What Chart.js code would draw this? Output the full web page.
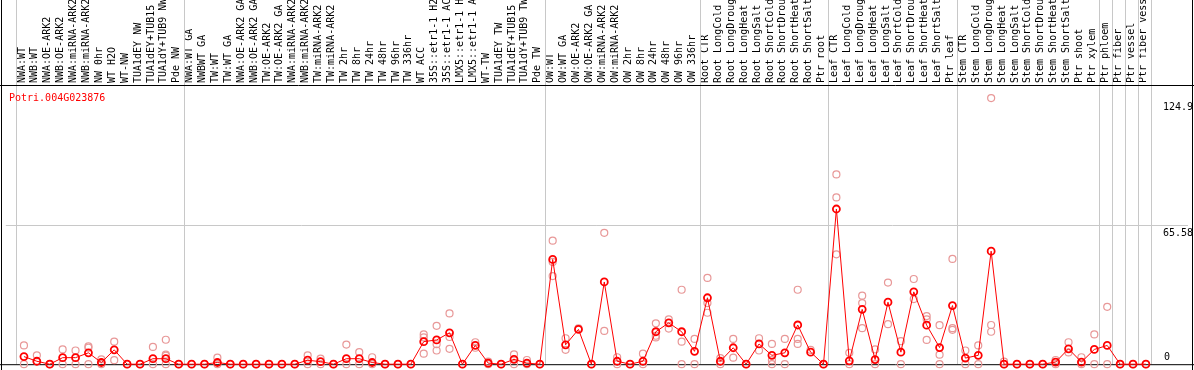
<!DOCTYPE html>
<html>
<head>
<meta charset="utf-8">
<script src="https://cdn.jsdelivr.net/npm/chart.js@4.4.1/dist/chart.umd.min.js"></script>
<style>
  html, body { margin: 0; padding: 0; background: #ffffff; }
  #wrap { width: 1194px; height: 370px; }
</style>
</head>
<body>
<div id="wrap"><canvas id="exprChart" width="1194" height="370"></canvas></div>
<script>
// ---- dados ----
const geneName = "Potri.004G023876";

const sampleLabels = [
    "NWA:WT", "NWB:WT", "NWA:OE-ARK2", "NWB:OE-ARK2", "NWA:miRNA-ARK2", "NWB:miRNA-ARK2",
    "NW 0hr", "WT H2O", "WT-NW", "TUA1dEY NW", "TUA1dEY+TUB15 NW", "TUA1dY+TUB9 NW", "Pde NW",
    "NWA:WT GA", "NWBWT GA", "TW:WT", "TW:WT GA", "NWA:OE-ARK2 GA", "NWB:OE-ARK2 GA",
    "TW:OE-ARK2", "TW:OE-ARK2 GA", "NWA:miRNA-ARK2 GA", "NWB:miRNA-ARK2 GA", "TW:miRNA-ARK2",
    "TW:miRNA-ARK2 GA", "TW 2hr", "TW 8hr", "TW 24hr", "TW 48hr", "TW 96hr", "TW 336hr", "WT ACC",
    "35S::etr1-1 H2O", "35S::etr1-1 ACC", "LMX5::etr1-1 H2O", "LMX5::etr1-1 ACC", "WT-TW",
    "TUA1dEY TW", "TUA1dEY+TUB15 TW", "TUA1dY+TUB9 TW", "Pde TW",
    "OW:WT", "OW:WT GA", "OW:OE-ARK2", "OW:OE-ARK2 GA", "OW:miRNA-ARK2", "OW:miRNA-ARK2 GA",
    "OW 2hr", "OW 8hr", "OW 24hr", "OW 48hr", "OW 96hr", "OW 336hr",
    "Root CTR", "Root LongCold", "Root LongDrought", "Root LongHeat", "Root LongSalt",
    "Root ShortCold", "Root ShortDrought", "Root ShortHeat", "Root ShortSalt", "Ptr root",
    "Leaf CTR", "Leaf LongCold", "Leaf LongDrought", "Leaf LongHeat", "Leaf LongSalt",
    "Leaf ShortCold", "Leaf ShortDrought", "Leaf ShortHeat", "Leaf ShortSalt", "Ptr leaf",
    "Stem CTR", "Stem LongCold", "Stem LongDrought", "Stem LongHeat", "Stem LongSalt",
    "Stem ShortCold", "Stem ShortDrought", "Stem ShortHeat", "Stem ShortSalt", "Ptr shoot",
    "Ptr xylem", "Ptr phloem", "Ptr fiber", "Ptr vessel", "Ptr fiber vessel"
];

const meanValues = [
    3.6, 1.4, 0, 3.1, 3.1, 5.4, 0.8, 6.8, 0, 0, 2.6, 2.6, 0,
    0, 0, 0.8, 0, 0, 0, 0, 0, 0, 1.9, 1.2, 0, 2.6, 2.6, 0.8, 0, 0, 0,
    10.7, 11.5, 14.9, 0, 8.9, 0.5, 0, 2.3, 0.5, 0,
    49.7, 9.2, 16.5, 0, 39.0, 1.4, 0, 1.4, 15.4, 19.6, 15.4, 6.1,
    31.5, 1.4, 7.8, 0, 9.6, 4.2, 5.4, 18.6, 5.7, 0,
    73.6, 1.6, 26.0, 2.2, 29.4, 5.7, 34.3, 18.5, 7.9, 27.8,
    2.9, 4.2, 53.6, 0, 0, 0, 0, 1.0, 7.3, 1.0, 7.0,
    8.9, 0, 0, 0
];

const replicateValues = [
    [8.9, 0], [4.2, 1.4], [0, 0], [7.0, 0], [6.5, 0], [8.5, 7.8, 0], [2.3, 0], [10.7, 1.9], [0], [0],
    [8.2, 0], [11.6, 4.5, 4.0, 0], [0],
    [0], [0], [3.1, 0], [0], [0], [0], [0], [0], [0], [4.2, 0], [2.6, 0], [0], [9.3, 0], [5.7, 0],
    [3.3, 0], [0], [0], [0],
    [14.1, 12.7, 5.0], [18.2, 9.5, 6.5], [24.1, 12.9, 7.3], [0], [10.4, 7.8], [1.2, 0], [0],
    [4.7, 0], [2.0, 0], [0],
    [58.6, 48.5, 41.8], [12.3, 6.8], [17.0], [0], [62.3, 15.8], [3.3, 0], [0], [5.0, 0],
    [19.4, 13.5, 12.7], [21.3, 16.9], [35.3, 10.7, 0], [12.0, 0],
    [40.9, 29.0, 24.4], [2.9, 0], [12.0, 3.1], [0], [12.3, 6.5], [9.6, 1.9, 0], [12.0, 0],
    [35.3, 12.0, 9.6], [6.8], [0],
    [90.0, 79.1, 52.1], [5.4, 0], [32.5, 29.0, 17.1], [7.0, 0], [38.7, 19.0], [10.9, 0],
    [40.4, 30.9], [22.8, 21.3, 11.5], [18.5, 4.5, 0], [49.9, 17.1, 16.3],
    [6.5, 0], [8.9, 0], [126.2, 18.6, 15.4], [1.2, 0], [0], [0], [0], [2.0, 0], [10.4, 5.6],
    [3.3, 0], [14.1, 0],
    [27.2, 0], [0], [0], [0]
];

// último índice de cada grupo (separadores verticais)
const groupEnds = [-1, 12, 40, 52, 62, 72, 83, 84, 85, 86, 87];

const yTickValues = [0, 65.58, 124.9];
const yTickLabels = ["0", "65.58", "124.9"];

// ---- montagem ----
const FONT = "DejaVu Sans Mono";
Chart.defaults.font.family = FONT;
Chart.defaults.font.size = 10;

const meanPoints = meanValues.map((v, i) => ({ x: i, y: v }));
const repPoints = [];
replicateValues.forEach((reps, i) => {
    reps.forEach(v => repPoints.push({ x: i, y: v }));
});

// linhas, moldura, título e rótulos do eixo y
const framePlugin = {
    id: "frame",
    beforeDatasetsDraw(chart) {
        const { ctx, chartArea, scales } = chart;
        const W = chart.width, H = chart.height;
        ctx.save();
        ctx.lineWidth = 1;
        ctx.strokeStyle = "#c8c8c8";
        groupEnds.forEach(g => {
            const x = Math.round(scales.x.getPixelForValue(g + 5 / 13)) + 0.5;
            ctx.beginPath();
            ctx.moveTo(x, 0);
            ctx.lineTo(x, chartArea.bottom);
            ctx.stroke();
        });
        ctx.strokeStyle = "#000000";
        ctx.beginPath();
        ctx.moveTo(0, chartArea.top + 0.5);
        ctx.lineTo(W, chartArea.top + 0.5);
        ctx.moveTo(0, chartArea.bottom + 0.5);
        ctx.lineTo(W, chartArea.bottom + 0.5);
        ctx.moveTo(1.5, 0);
        ctx.lineTo(1.5, H);
        ctx.moveTo(W - 1.5, 0);
        ctx.lineTo(W - 1.5, H);
        ctx.stroke();
        ctx.restore();
    },
    afterDraw(chart) {
        const { ctx, scales } = chart;
        ctx.save();
        ctx.font = "10px '" + FONT + "'";
        ctx.fillStyle = "#ff0000";
        ctx.textAlign = "left";
        ctx.textBaseline = "alphabetic";
        ctx.fillText(geneName, 9, 101);

        ctx.fillStyle = "#000000";
        yTickValues.forEach((v, i) => {
            const y = scales.y.getPixelForValue(v);
            if (v === 0) {
                ctx.textBaseline = "bottom";
                ctx.fillText(yTickLabels[i], 1164, y - 2);
            } else {
                ctx.textBaseline = "top";
                ctx.fillText(yTickLabels[i], 1163, y + 2);
            }
        });
        ctx.restore();
    }
};

new Chart(document.getElementById("exprChart").getContext("2d"), {
    type: "line",
    data: {
        datasets: [
            {
                label: geneName,
                data: meanPoints,
                borderColor: "#ff0000",
                borderWidth: 1,
                pointRadius: 3.5,
                pointBorderWidth: 1.8,
                pointBorderColor: "#ff0000",
                pointBackgroundColor: "rgba(0,0,0,0)",
                tension: 0,
                clip: false,
                order: 0,
            },
            {
                type: "scatter",
                label: "replicates",
                data: repPoints,
                showLine: false,
                pointRadius: 3.5,
                pointBorderWidth: 1.2,
                pointBorderColor: "#e89898",
                pointBackgroundColor: "rgba(0,0,0,0)",
                clip: false,
                order: 1,
            },
        ],
    },
    options: {
        responsive: false,
        animation: false,
        devicePixelRatio: 1,
        layout: { padding: { left: 1, right: 1, top: 0, bottom: 1 } },
        plugins: {
            legend: { display: false },
            tooltip: { enabled: false },
        },
        scales: {
            x: {
                type: "linear",
                position: "top",
                min: -1.408,
                max: 90.28,
                grid: { display: false, drawTicks: false },
                border: { display: false },
                afterBuildTicks: function (scale) {
                    scale.ticks = sampleLabels.map((_, i) => ({ value: i }));
                },
                afterFit: function (scale) {
                    scale.height = 85;
                },
                ticks: {
                    autoSkip: false,
                    minRotation: 90,
                    maxRotation: 90,
                    padding: 2,
                    labelOffset: 10,
                    color: "#000000",
                    font: { size: 10 },
                    callback: function (value) {
                        return sampleLabels[value];
                    },
                },
            },
            y: {
                type: "linear",
                position: "right",
                min: 0,
                max: 132.4,
                border: { display: false },
                afterBuildTicks: function (scale) {
                    scale.ticks = yTickValues.map(v => ({ value: v }));
                },
                afterFit: function (scale) {
                    scale.width = 0;
                },
                grid: {
                    drawTicks: false,
                    color: function (context) {
                        return context.tick && context.tick.value === 65.58 ? "#c8c8c8" : "rgba(0,0,0,0)";
                    },
                },
                ticks: { display: false },
            },
        },
    },
    plugins: [framePlugin],
});
</script>
</body>
</html>
